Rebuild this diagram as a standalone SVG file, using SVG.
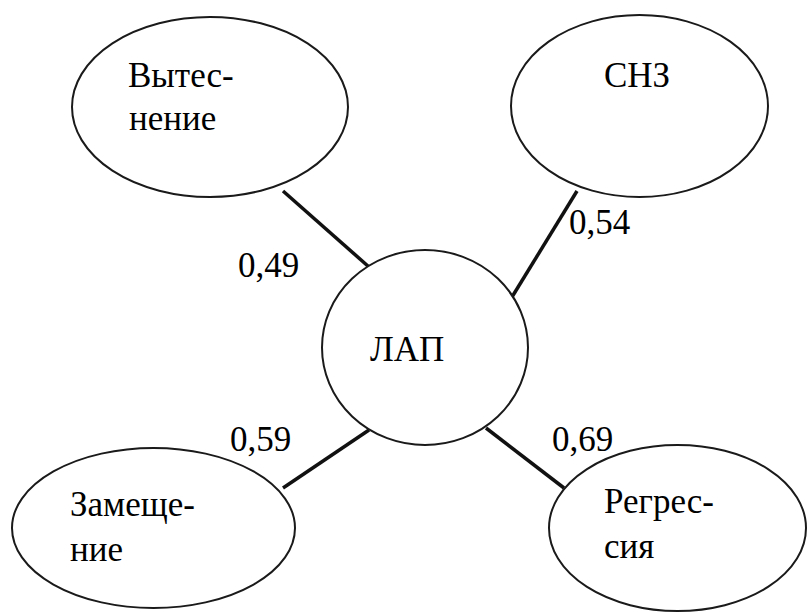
<svg xmlns="http://www.w3.org/2000/svg" width="808" height="612" viewBox="0 0 808 612" font-family="Liberation Serif">
<style>
.node ellipse{fill:#fff;stroke:#1a1a1a;stroke-width:2}
.conn line{stroke:#111;stroke-width:3.5}
</style>
<rect width="808" height="612" fill="#fff"/>
<g class="conn" id="connectors">
<line x1="283" y1="191" x2="369" y2="267"/>
<line x1="577" y1="191" x2="512" y2="297"/>
<line x1="283" y1="488" x2="369" y2="430"/>
<line x1="486" y1="428" x2="564" y2="488"/>
</g>
<g class="node" id="vytesnenie">
<ellipse cx="210" cy="107" rx="138" ry="90"/>
<text x="128" y="87" font-family="Liberation Serif" font-size="35">Вытес-</text>
<text x="129" y="130" font-family="Liberation Serif" font-size="35">нение</text>
</g>
<g class="node" id="snz">
<ellipse cx="639.5" cy="106" rx="128.5" ry="91"/>
<text x="604" y="87" font-family="Liberation Serif" font-size="35">СНЗ</text>
</g>
<g class="node" id="lap">
<ellipse cx="425" cy="347.5" rx="103" ry="97.5"/>
<text x="370" y="361" font-family="Liberation Serif" font-size="35">ЛАП</text>
</g>
<g class="node" id="zameshchenie">
<ellipse cx="153.5" cy="528" rx="141.5" ry="80"/>
<text x="70" y="516" font-family="Liberation Serif" font-size="35">Замеще-</text>
<text x="70" y="561" font-family="Liberation Serif" font-size="35">ние</text>
</g>
<g class="node" id="regressiya">
<ellipse cx="677.5" cy="528" rx="128.5" ry="83"/>
<text x="604" y="513" font-family="Liberation Serif" font-size="35">Регрес-</text>
<text x="604" y="558" font-family="Liberation Serif" font-size="35">сия</text>
</g>
<text x="238" y="277" font-family="Liberation Serif" font-size="35">0,49</text>
<text x="569" y="234" font-family="Liberation Serif" font-size="35">0,54</text>
<text x="230" y="451" font-family="Liberation Serif" font-size="35">0,59</text>
<text x="552" y="451" font-family="Liberation Serif" font-size="35">0,69</text>
</svg>
